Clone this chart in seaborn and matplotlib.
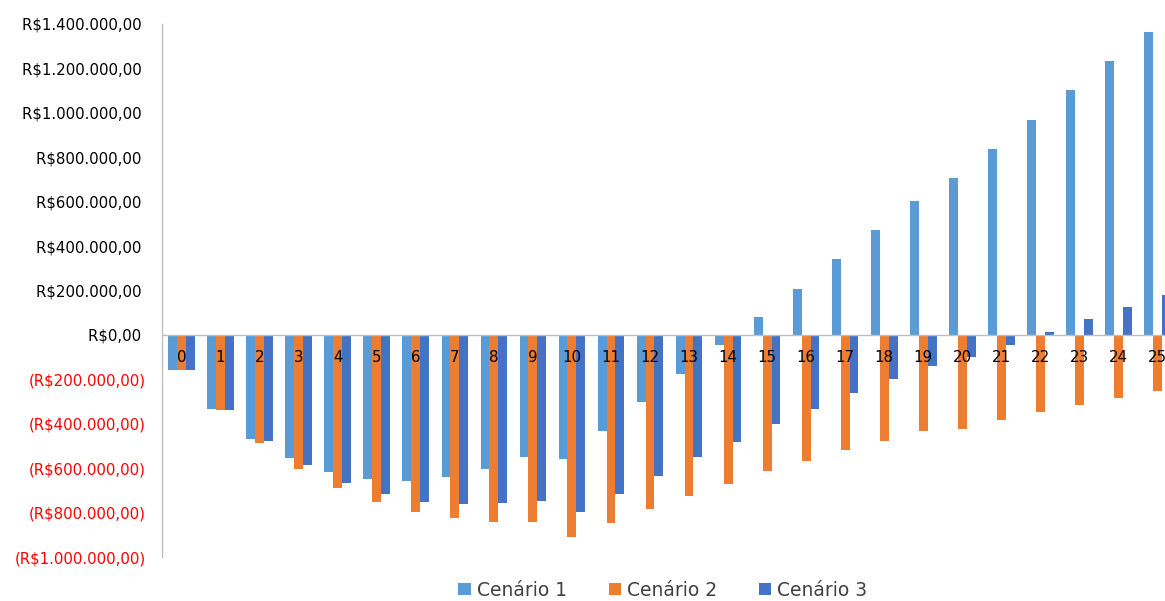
import matplotlib
matplotlib.use("Agg")
import matplotlib.pyplot as plt
from matplotlib.patches import Patch
import seaborn as sns
import pandas as pd

# Fluxo de caixa acumulado por ano, em R$
anos = [str(a) for a in range(26)]
cenario_1 = [-160000, -335000, -467000, -555000, -617000, -647000, -656000, -638000,
             -602000, -551000, -560000, -434000, -303000, -177000, -45000, 82000,
             209000, 340000, 472000, 601000, 706000, 837000, 967000, 1101000,
             1232000, 1362000]
cenario_2 = [-160000, -339000, -485000, -602000, -688000, -751000, -797000, -823000,
             -842000, -842000, -910000, -845000, -782000, -724000, -670000, -614000,
             -566000, -517000, -476000, -431000, -424000, -382000, -345000, -314000,
             -283000, -251000]
cenario_3 = [-160000, -339000, -479000, -584000, -667000, -715000, -752000, -763000,
             -758000, -746000, -797000, -715000, -634000, -551000, -481000, -403000,
             -335000, -263000, -200000, -138000, -101000, -44000, 12000, 70000,
             125000, 179000]
series_names = ["Cenário 1", "Cenário 2", "Cenário 3"]
y_ticks = [-1000000, -800000, -600000, -400000, -200000, 0, 200000, 400000,
           600000, 800000, 1000000, 1200000, 1400000]

colors = ["#5B9BD5", "#ED7D31", "#4472C4"]

df = pd.DataFrame({
    "ano": anos * 3,
    "valor": cenario_1 + cenario_2 + cenario_3,
    "cenario": [series_names[0]] * 26 + [series_names[1]] * 26 + [series_names[2]] * 26,
})

sns.set_theme(style="white")
plt.rcParams["font.family"] = ["DejaVu Sans"]

fig = plt.figure(figsize=(11.65, 6.01), dpi=100)
ax = fig.add_axes([162 / 1165, 1 - 557 / 601, 1 - 162 / 1165, (557 - 24) / 601])

sns.barplot(data=df, x="ano", y="valor", hue="cenario", order=anos,
            hue_order=series_names, palette=colors, width=0.68,
            saturation=1, linewidth=0, ax=ax, legend=False)

ax.set_xlim(-0.5, -0.5 + (1165 - 162) / 39.04)
ax.set_ylim(-1000000, 1400000)
ax.set_xlabel("")
ax.set_ylabel("")
ax.set_xticks([])

# eixo zero
ax.axhline(0, color="#BFBFBF", linewidth=1.0, zorder=3)
for side in ["top", "right", "bottom"]:
    ax.spines[side].set_visible(False)
ax.spines["left"].set_color("#BFBFBF")
ax.spines["left"].set_linewidth(1.0)


def brl(v):
    s = f"{abs(v):,.2f}".replace(",", "X").replace(".", ",").replace("X", ".")
    return f"(R${s})" if v < 0 else f"R${s} "


ax.set_yticks(y_ticks)
ax.set_yticklabels([brl(v) for v in y_ticks])
ax.tick_params(axis="y", length=0, pad=11.5, labelsize=10.8)
for v, lab in zip(y_ticks, ax.get_yticklabels()):
    lab.set_color("#FF0000" if v < 0 else "#000000")

# rótulos dos anos logo abaixo do eixo zero
for i, a in enumerate(anos):
    ax.annotate(a, xy=(i, 0), xytext=(0, -23), textcoords="offset pixels",
                ha="center", va="center", fontsize=10.8, color="#000000",
                zorder=5, annotation_clip=False)

handles = [Patch(facecolor=c, edgecolor="none") for c in colors]
fig.legend(handles, series_names, loc="center", bbox_to_anchor=(663 / 1165, 1 - 590 / 601),
           ncol=3, frameon=False, fontsize=13.5, handlelength=0.65, handleheight=0.65,
           handletextpad=0.35, columnspacing=2.2, labelcolor="#404040")

fig.savefig("out.png", dpi=100)
